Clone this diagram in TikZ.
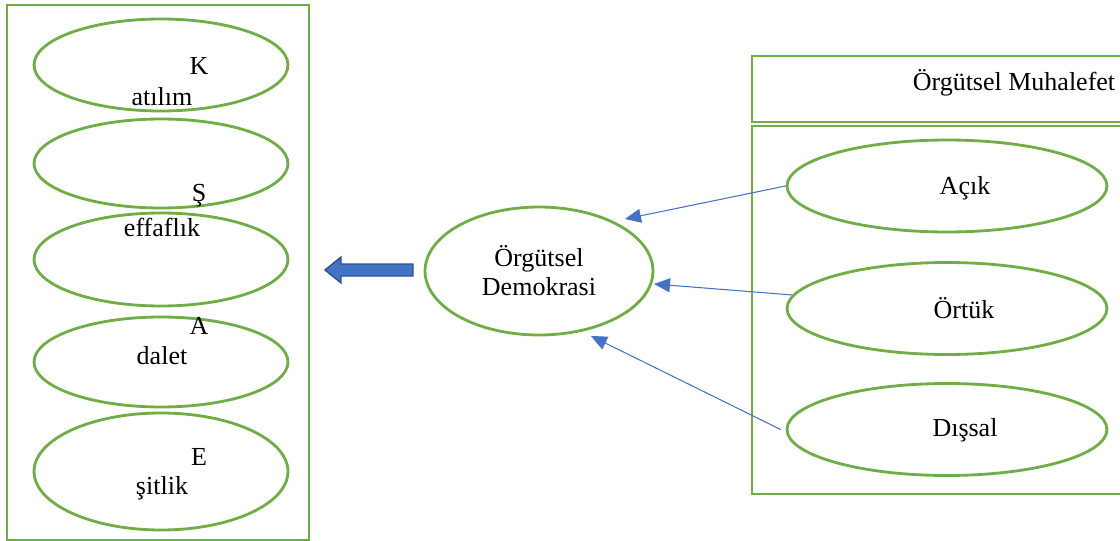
\documentclass[tikz,border=0pt]{standalone}
\usepackage{fontspec}
\setmainfont{Liberation Serif}
\usepackage{tikz}
\usetikzlibrary{arrows.meta,positioning,shapes.geometric}
\definecolor{ogreen}{HTML}{70AD47}
\definecolor{oblue}{HTML}{4472C4}
\definecolor{odblue}{HTML}{2F528F}

\begin{document}
\begin{tikzpicture}[x=0.02cm, y=-0.02cm,
    oval/.style={ellipse, draw=ogreen, line width=1.6pt, inner sep=0pt},
    txt/.style={font=\fontsize{14.8}{16.5}\selectfont, inner sep=0pt},
    link/.style={-{Triangle[length=0.32cm, width=0.28cm]}, oblue, line width=0.6pt}]
    \useasboundingbox (0,0) rectangle (1120,541);
    \clip (0,0) rectangle (1120,541);

    % Left box with the five ovals
    \draw[ogreen, line width=1.6pt] (7,5) rectangle (309,540);
    \foreach \name/\y/\h in {katilim/65/1.84, seffaflik/163.5/1.78, adalet/259.5/1.86, esitlik2/362/1.80, esitlik/471.5/2.34} {
        \node[oval, minimum width=5.08cm, minimum height=\h cm] (\name) at (161,\y) {};
    }
    \node[txt] (katilimA) at (199,66) {K};
    \node[txt] (katilimB) at (162,97) {atılım};
    \node[txt] (seffaflikA) at (199,196) {Ş};
    \node[txt] (seffaflikB) at (162,227) {effaflık};
    \node[txt] (adaletA) at (199,326) {A};
    \node[txt] (adaletB) at (162,356) {dalet};
    \node[txt] (esitlikA) at (199,457) {E};
    \node[txt] (esitlikB) at (162,488) {şitlik};

    % Big arrow to the left
    \draw[fill=oblue, draw=odblue, line width=0.8pt]
        (413,264) -- (341,264) -- (341,257) -- (325,270) -- (341,283) -- (341,276) -- (413,276) -- cycle;

    % Middle oval
    \node[oval, txt, align=center, minimum width=4.56cm, minimum height=2.56cm] (demokrasi) at (539,271) {Örgütsel\\Demokrasi};

    % Right boxes
    \draw[ogreen, line width=1.6pt] (752,56) rectangle (1135,122);
    \node[txt] (muhalefet) at (1014,83) {Örgütsel Muhalefet};
    \draw[ogreen, line width=1.6pt] (752,126) rectangle (1135,494);

    \node[oval, minimum width=6.4cm, minimum height=1.84cm] (acik) at (947,186) {};
    \node[oval, minimum width=6.4cm, minimum height=1.84cm] (ortuk) at (947,308.5) {};
    \node[oval, minimum width=6.4cm, minimum height=1.84cm] (dissal) at (947,429.5) {};
    \node[txt] (acikT) at (965,188) {Açık};
    \node[txt] (ortukT) at (964,308) {Örtük};
    \node[txt] (dissalT) at (965,430) {Dışsal};

    % Thin arrows into the middle oval
    \coordinate (t1) at (625,219);
    \coordinate (t2) at (654,284);
    \coordinate (t3) at (591,336);
    \draw[link] (acik.west) -- (t1);
    \draw[link] (ortuk.175) -- (t2);
    \draw[link] ([xshift=-0.1cm]dissal.west) -- (t3);
\end{tikzpicture}
\end{document}
